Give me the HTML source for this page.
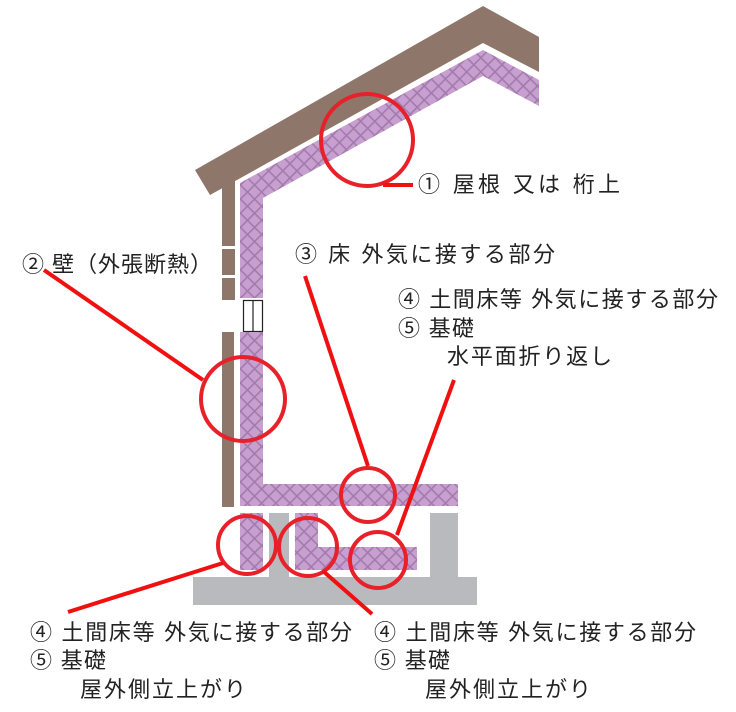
<!DOCTYPE html>
<html><head><meta charset="utf-8"><style>
html,body{margin:0;padding:0;background:#fff;}
svg{display:block;}
text{font-family:"Liberation Sans","Noto Sans CJK JP",sans-serif;font-size:22px;fill:#222;}
</style></head><body>
<svg width="736" height="712" viewBox="0 0 736 712" xmlns="http://www.w3.org/2000/svg">
<defs>
<pattern id="h" width="10" height="10" patternUnits="userSpaceOnUse" patternTransform="rotate(45)">
<rect width="10" height="10" fill="#c7a0cf"/>
<rect x="0" y="0" width="1.6" height="10" fill="#a47aae"/>
<rect x="0" y="0" width="10" height="1.6" fill="#a47aae"/>
</pattern>
</defs>
<polygon points="195,170 483,6 539,37 539,72 483,43 210,195" fill="#8f766b"/>
<polygon points="240,183 483,50 539,80 539,106 483,76 263,198 263,298 240,298" fill="url(#h)"/>
<rect x="222" y="180" width="13" height="66" fill="#8f766b"/>
<rect x="222" y="249" width="13" height="26" fill="#8f766b"/>
<rect x="222" y="278" width="13" height="22" fill="#8f766b"/>
<rect x="243.5" y="300.5" width="19" height="31" fill="#fff" stroke="#222" stroke-width="1.2"/>
<line x1="253" y1="300" x2="253" y2="332" stroke="#222" stroke-width="1.2"/>
<rect x="222" y="332" width="12" height="175" fill="#8f766b"/>
<polygon points="240,332 263,332 263,484 458,484 458,506 240,506" fill="url(#h)"/>
<rect x="193" y="577" width="284" height="28" fill="#b9babd"/>
<rect x="269" y="513" width="20" height="66" fill="#b9babd"/>
<rect x="430" y="513" width="28" height="66" fill="#b9babd"/>
<rect x="240" y="513" width="23" height="57" fill="url(#h)"/>
<polygon points="295,513 318,513 318,547 417,547 417,570 295,570" fill="url(#h)"/>
<g fill="none" stroke="#e8202a" stroke-width="4">
<circle cx="367" cy="140" r="46"/>
<circle cx="243" cy="399" r="42"/>
<circle cx="368" cy="495" r="27"/>
<circle cx="378" cy="560" r="28"/>
<circle cx="247" cy="545" r="29"/>
<circle cx="308" cy="547" r="29"/>
</g>
<g stroke="#f01010" stroke-width="4">
<line x1="383" y1="185" x2="413" y2="185"/>
<line x1="44" y1="270" x2="203" y2="380"/>
<line x1="305" y1="276" x2="368" y2="466"/>
<line x1="454" y1="380" x2="397" y2="535"/>
<line x1="68" y1="612" x2="223" y2="563"/>
<line x1="323" y1="571" x2="372" y2="614"/>
</g>
<text x="418" y="192" textLength="202" lengthAdjust="spacing">① 屋根 又は 桁上</text>
<text x="22" y="272" textLength="190" lengthAdjust="spacing">② 壁（外張断熱）</text>
<text x="295" y="262" textLength="260" lengthAdjust="spacing">③ 床 外気に接する部分</text>
<text x="398" y="307" textLength="320" lengthAdjust="spacing">④ 土間床等 外気に接する部分</text>
<text x="398" y="336" textLength="76" lengthAdjust="spacing">⑤ 基礎</text>
<text x="447" y="364" textLength="165" lengthAdjust="spacing">水平面折り返し</text>
<text x="30" y="640" textLength="322" lengthAdjust="spacing">④ 土間床等 外気に接する部分</text>
<text x="30" y="668" textLength="76" lengthAdjust="spacing">⑤ 基礎</text>
<text x="80" y="697" textLength="166" lengthAdjust="spacing">屋外側立上がり</text>
<text x="374" y="640" textLength="322" lengthAdjust="spacing">④ 土間床等 外気に接する部分</text>
<text x="374" y="668" textLength="76" lengthAdjust="spacing">⑤ 基礎</text>
<text x="425" y="697" textLength="166" lengthAdjust="spacing">屋外側立上がり</text>
</svg>
</body></html>
